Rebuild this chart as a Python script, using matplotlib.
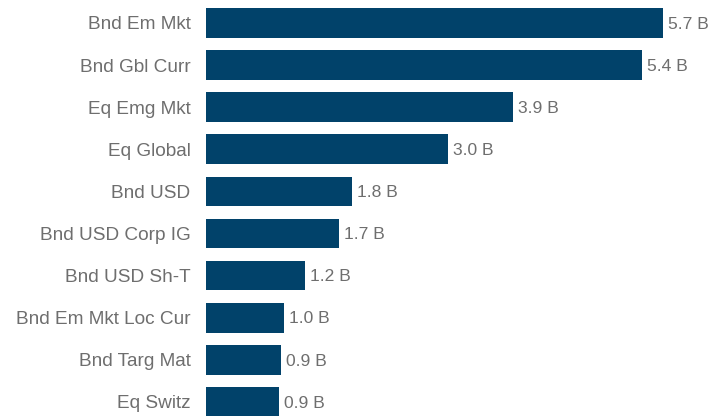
import numpy as np
import matplotlib.pyplot as plt

plt.rcParams['font.family'] = ['Liberation Sans', 'DejaVu Sans']

categorias = ['Bnd Em Mkt', 'Bnd Gbl Curr', 'Eq Emg Mkt', 'Eq Global', 'Bnd USD',
              'Bnd USD Corp IG', 'Bnd USD Sh-T', 'Bnd Em Mkt Loc Cur', 'Bnd Targ Mat', 'Eq Switz']
valores = [5.70, 5.44, 3.83, 3.02, 1.82, 1.66, 1.23, 0.97, 0.93, 0.91]
rotulos = ['5.7 B', '5.4 B', '3.9 B', '3.0 B', '1.8 B', '1.7 B', '1.2 B', '1.0 B', '0.9 B', '0.9 B']

fig = plt.figure(figsize=(7.27, 4.16), dpi=100)
ax = fig.add_axes([0.284, 0.0, 0.716, 1.0])

y = np.arange(len(categorias))
ax.barh(y, valores, height=0.705, color='#01426a')

# rotulos de valor
for yi, v, r in zip(y, valores, rotulos):
    ax.text(v + 0.065, yi + 0.03, r, va='center', ha='left', fontsize=12.6, color='#6e6e6e')

ax.set_xlim(0, 6.506)
ax.set_ylim(9.335, -0.546)
ax.set_yticks(y)
ax.set_yticklabels(categorias, fontsize=13.7, color='#6e6e6e')
ax.tick_params(axis='y', length=0, pad=11.5)
ax.set_xticks([])
for s in ax.spines.values():
    s.set_visible(False)

fig.savefig('out.png', dpi=100)
